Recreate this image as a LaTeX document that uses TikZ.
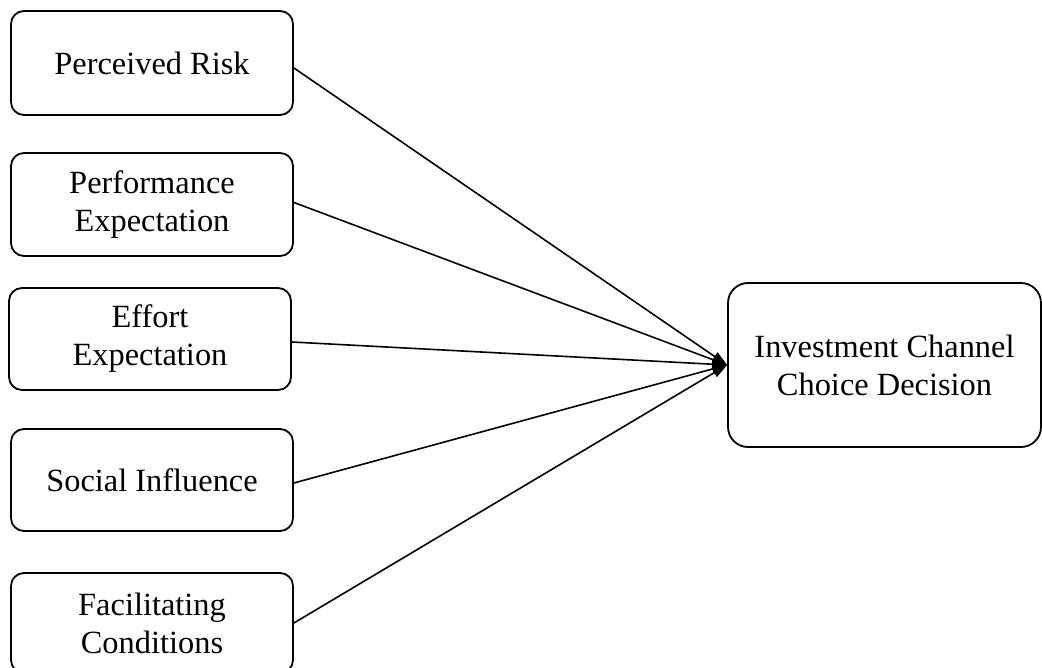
\documentclass[tikz,border=0pt]{standalone}
\usepackage{fontspec}
\setmainfont{Liberation Serif}
\usetikzlibrary{arrows.meta}
\begin{document}
\begin{tikzpicture}[x=1pt,y=-1pt,
  srcbox/.style={draw, line width=1.8pt, rounded corners=13pt, inner sep=0pt,
    minimum width=282pt, align=center, font=\fontsize{32.4}{38}\selectfont},
  tgtbox/.style={draw, line width=1.8pt, rounded corners=20pt, inner sep=0pt,
    minimum width=313pt, minimum height=164pt, align=center, font=\fontsize{32.4}{38}\selectfont},
  link/.style={line width=1.6pt, -{Triangle[length=15pt,width=10pt]}}]
\useasboundingbox (0,0) rectangle (1042,668);
\node[srcbox, minimum height=104pt] (b1) at (152,63) {Perceived Risk};
\node[srcbox, minimum height=103pt] (b2) at (152,204.5) {Performance\\Expectation};
\node[srcbox, minimum height=102pt] (b3) at (150,339) {Effort\\Expectation};
\node[srcbox, minimum height=102pt] (b4) at (152,480) {Social Influence};
\node[srcbox, minimum height=100pt] (b5) at (152,623) {Facilitating\\Conditions};
\node[tgtbox] (t) at (884.5,365) {Investment Channel\\Choice Decision};
\draw[link] ([yshift=-5pt]b1.east) -- (t.west);
\draw[link] ([yshift=2pt]b2.east) -- (t.west);
\draw[link] ([yshift=-3pt]b3.east) -- (t.west);
\draw[link] ([yshift=-3pt]b4.east) -- (t.west);
\draw[link] (b5.east) -- (t.west);
\end{tikzpicture}
\end{document}
